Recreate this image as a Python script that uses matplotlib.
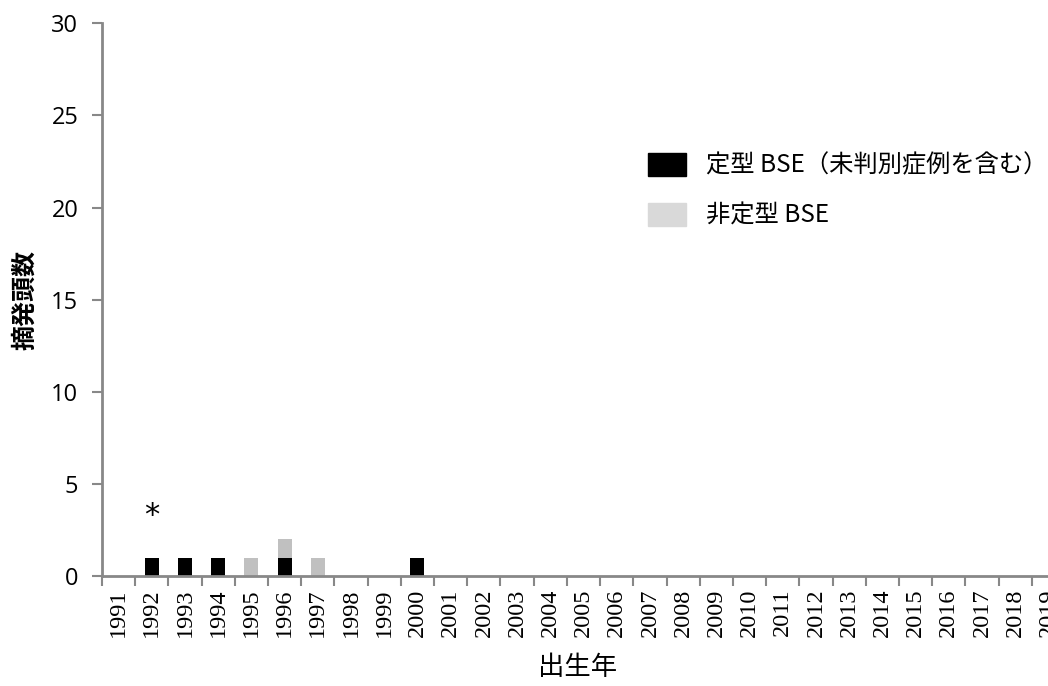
import matplotlib
matplotlib.use("Agg")
import matplotlib.pyplot as plt
from matplotlib.patches import Patch

plt.rcParams['font.family'] = ['Noto Sans CJK JP', 'DejaVu Sans']

years = [str(y) for y in range(1991, 2020)]
typical = [0, 1, 1, 1, 0, 1, 0, 0, 0, 1] + [0] * 19
atypical = [0, 0, 0, 0, 1, 1, 1, 0, 0, 0] + [0] * 19
legend_labels = ['定型 BSE（未判別症例を含む）', '非定型 BSE']

fig = plt.figure(figsize=(10.48, 6.86), dpi=100)
ax = fig.add_axes([0.0973, 0.160, 0.919, 0.806])

x = list(range(len(years)))
ax.bar(x, typical, width=0.42, color='#000000')
ax.bar(x, atypical, width=0.42, bottom=typical, color='#c0c0c0')

# asterisk above 1992
ax.text(1, 3.3, '*', fontsize=22, ha='center', va='center',
        family='DejaVu Sans')

ax.set_xlim(-0.5, len(years) - 0.5)
ax.set_ylim(0, 30)
ax.set_yticks(range(0, 31, 5))
ax.set_yticklabels([str(v) for v in range(0, 31, 5)], fontsize=17,
                   family='Open Sans')
ax.set_xticks(x)
ax.set_xticklabels(years, rotation=90, fontsize=17.5, family='Liberation Serif')
ax.set_xticks([i - 0.5 for i in range(len(years) + 1)], minor=True)
ax.tick_params(axis='x', which='major', length=0, pad=9)
ax.tick_params(axis='x', which='minor', length=7, width=1.5, color='#888888')
ax.tick_params(axis='y', length=7, width=1.5, color='#888888', pad=10)

for s in ['top', 'right']:
    ax.spines[s].set_visible(False)
for s in ['left', 'bottom']:
    ax.spines[s].set_color('#888888')
    ax.spines[s].set_linewidth(2)

ax.set_ylabel('摘発頭数', fontsize=18, fontweight='bold', labelpad=10)
fig.text(0.551, 0.027, '出生年', fontsize=19, ha='center', va='center')

handles = [Patch(color='#000000'), Patch(color='#d9d9d9')]
ax.legend(handles, legend_labels, loc='upper left', bbox_to_anchor=(0.567, 0.766),
          frameon=False, fontsize=17.5, handlelength=1.55, handleheight=1.1,
          labelspacing=1.0, handletextpad=0.85, borderpad=0, borderaxespad=0)

fig.savefig('out.png', dpi=100)
